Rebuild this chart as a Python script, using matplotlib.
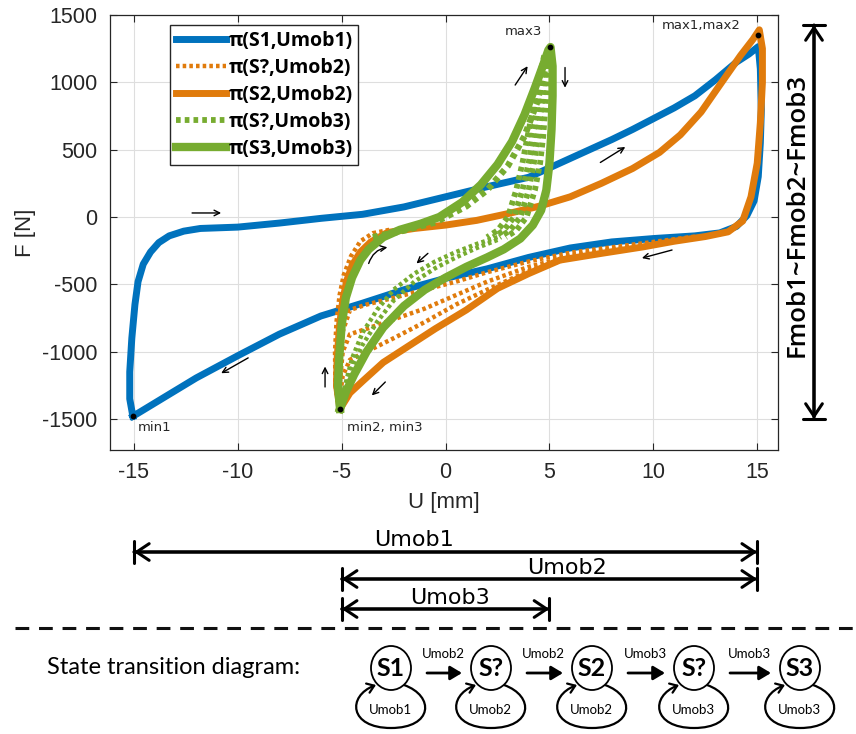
import matplotlib
matplotlib.use("Agg")
import matplotlib.pyplot as plt
import matplotlib.transforms as mtransforms
from matplotlib.path import Path
from matplotlib.patches import FancyArrowPatch, Ellipse
from matplotlib.lines import Line2D

plt.rcParams["axes.unicode_minus"] = False

# ---------------- data ----------------
# steady loop in state S1 (stroke Umob1)
u_s1 = [-15.05, -15.2, -15.2, -15.1, -14.95, -14.8, -14.55, -14.2, -13.8, -13.3, -12.6, -11.8,
        -10.0, -8.0, -6.0, -4.0, -2.0, 0.0, 2.0, 4.0, 5.0, 6.0, 7.0, 8.0, 9.0, 10.0, 11.0, 12.0,
        13.0, 14.0, 14.6, 15.05, 15.15, 15.2, 15.15, 15.05, 14.85, 14.5, 14.0, 13.2, 12.0, 10.0,
        8.0, 6.0, 4.0, 2.0, 0.0, -2.0, -4.0, -6.0, -8.0, -10.0, -12.0, -13.5, -15.05]
f_s1 = [-1480, -1350, -1150, -900, -650, -480, -350, -260, -190, -140, -105, -85,
        -75, -45, -10, 20, 75, 150, 225, 295, 365, 435, 505, 575, 650, 730, 810, 900,
        1020, 1150, 1210, 1265, 1100, 800, 550, 300, 120, 10, -70, -118, -140, -160,
        -185, -230, -300, -385, -455, -540, -640, -735, -870, -1030, -1195, -1335, -1480]

# steady loop in state S2 (stroke Umob2)
u_s2 = [-5.08, -5.25, -5.22, -5.1, -4.95, -4.75, -4.5, -4.1, -3.6, -2.8, -1.5, 0.0, 1.5, 3.0,
        4.5, 6.0, 7.5, 9.0, 10.3, 11.3, 12.3, 13.2, 14.2, 14.8, 15.1, 15.25, 15.25, 15.15, 15.0, 14.7,
        14.3, 13.6, 12.5, 11.0, 9.5, 7.5, 5.5, 4.0, 2.5, 1.0, -0.5, -2.0, -3.0, -4.0, -4.6, -5.08]
f_s2 = [-1425, -1250, -1050, -800, -620, -470, -360, -260, -185, -115, -85, -60, -25, 25,
        80, 150, 250, 360, 480, 610, 780, 980, 1200, 1320, 1390, 1250, 1000, 700, 400, 150,
        -30, -110, -145, -180, -222, -270, -320, -420, -530, -690, -830, -980, -1080, -1220, -1306, -1425]

# transient cycles S? -> S2 (stroke Umob2)
t2_riser_u = [-5.15, -5.3, -5.32, -5.25, -5.1, -4.9, -4.55, -4.1, -3.5, -2.7]
t2_riser_f = [-1420, -1250, -1000, -780, -580, -430, -290, -180, -120, -95]
t2_low_u = [12.0, 10.0, 8.0, 6.0, 4.0, 2.0, 0.5, -1.0, -2.5, -3.8, -4.6, -4.95, -5.1]
t2_low_f_a = [-145, -185, -225, -265, -330, -410, -480, -540, -600, -650, -690, -850, -1150]
t2_low_f_b = [-150, -195, -240, -290, -370, -480, -580, -680, -760, -830, -870, -1000, -1250]
t2_low_f_c = [-155, -205, -250, -305, -400, -540, -650, -780, -900, -1000, -1060, -1180, -1350]

# steady loop in state S3 (stroke Umob3)
u_s3 = [-5.08, -5.18, -5.12, -5.0, -4.8, -4.5, -4.1, -3.7, -3.0, -2.2, -1.2, -0.3, 0.8, 1.7,
        2.5, 3.2, 3.8, 4.3, 4.7, 4.95, 5.05, 5.15, 5.15, 5.1, 5.0, 4.85, 4.6, 4.2, 3.6, 2.8,
        2.0, 1.0, 0.0, -1.0, -2.0, -3.0, -3.8, -4.4, -4.8, -5.08]
f_s3 = [-1425, -1250, -1050, -800, -600, -450, -320, -240, -150, -95, -50, 0, 110, 240,
        390, 560, 760, 960, 1130, 1240, 1262, 1120, 900, 650, 400, 200, 50, -60, -160, -240,
        -300, -370, -450, -540, -660, -820, -1000, -1170, -1300, -1425]

# transient cycles S? -> S3 (stroke Umob3)
t3_up_u = [-3.5, -2.0, -0.5, 1.0, 2.0, 3.0, 3.8, 4.4, 4.8, 5.0]
t3_up_f = [-150, -100, -40, 80, 200, 380, 600, 850, 1100, 1230]
t3_right_f = [1200, 1000, 800, 600, 400, 200, 0, -100, -150]
t3_right_u_a = [4.95, 4.9, 4.8, 4.7, 4.55, 4.3, 3.9, 3.4, 2.9]
t3_right_u_b = [4.9, 4.75, 4.6, 4.45, 4.25, 4.0, 3.6, 3.1, 2.6]
t3_right_u_c = [4.85, 4.6, 4.4, 4.2, 4.0, 3.7, 3.3, 2.8, 2.3]
t3_right_u_d = [4.75, 4.45, 4.2, 3.95, 3.7, 3.4, 3.0, 2.5, 2.0]
t3_low_u = [2.5, 1.5, 0.5, -0.5, -1.5, -2.5, -3.3, -4.0, -4.5, -4.9]
t3_low_f_a = [-170, -230, -300, -380, -480, -620, -780, -950, -1120, -1320]
t3_low_f_b = [-150, -200, -260, -330, -420, -540, -690, -860, -1050, -1290]

# extreme points
ext_u = [-15.05, -5.08, 5.05, 15.05]
ext_f = [-1480, -1425, 1262, 1355]
ext_labels = ["min1", "min2, min3", "max3", "max1,max2"]

series_labels = ["π(S1,Umob1)", "π(S?,Umob2)", "π(S2,Umob2)", "π(S?,Umob3)", "π(S3,Umob3)"]
x_ticks = [-15, -10, -5, 0, 5, 10, 15]
y_ticks = [-1500, -1000, -500, 0, 500, 1000, 1500]

strokes = [(-15, 15, "Umob1"), (-5, 15, "Umob2"), (-5, 5, "Umob3")]
states = ["S1", "S?", "S2", "S?", "S3"]
loop_labels = ["Umob1", "Umob2", "Umob2", "Umob3", "Umob3"]
edge_labels = ["Umob2", "Umob2", "Umob3", "Umob3"]

# ---------------- style ----------------
BLUE = "#0072BD"
ORANGE = "#E07B0C"
GREEN = "#77AC30"
DARK = "#262626"
W, H = 856, 734


def fxy(px, py):
    """pixel position (from top-left) -> figure fraction"""
    return (px / W, 1 - py / H)


fig = plt.figure(figsize=(W / 100, H / 100), dpi=100)
ax = fig.add_axes([110 / W, 1 - 450 / H, (778 - 110) / W, (450 - 15) / H])

SOLID_LW = 5.0
DOT_LW = 3.2
DOT = (0, (0.8, 0.7))

ax.plot(u_s1, f_s1, color=BLUE, lw=SOLID_LW, solid_joinstyle="round", label=series_labels[0], zorder=3)

first = True
for fl in (t2_low_f_a, t2_low_f_b, t2_low_f_c):
    ax.plot(t2_low_u, fl, color=ORANGE, lw=DOT_LW, linestyle=DOT,
            label=series_labels[1] if first else None, zorder=4)
    first = False
ax.plot(t2_riser_u, t2_riser_f, color=ORANGE, lw=DOT_LW, linestyle=DOT, zorder=4)

ax.plot(u_s2, f_s2, color=ORANGE, lw=SOLID_LW, solid_joinstyle="round", label=series_labels[2], zorder=5)

first = True
for ul in (t3_right_u_a, t3_right_u_b, t3_right_u_c, t3_right_u_d):
    ax.plot(ul, t3_right_f, color=GREEN, lw=DOT_LW + 1, linestyle=DOT,
            label=series_labels[3] if first else None, zorder=6)
    first = False
ax.plot(t3_up_u, t3_up_f, color=GREEN, lw=DOT_LW + 1.5, linestyle=DOT, zorder=6)
for fl in (t3_low_f_a, t3_low_f_b):
    ax.plot(t3_low_u, fl, color=GREEN, lw=DOT_LW, linestyle=DOT, zorder=6)

ax.plot(u_s3, f_s3, color=GREEN, lw=SOLID_LW + 1, solid_joinstyle="round", label=series_labels[4], zorder=7)

ax.scatter(ext_u, ext_f, s=10, color="black", zorder=9)

ann_font = dict(fontsize=9.5, color=DARK, family="DejaVu Sans")
ax.text(-14.8, -1560, ext_labels[0], ha="left", va="center", **ann_font)
ax.text(-4.75, -1565, ext_labels[1], ha="left", va="center", **ann_font)
ax.text(2.85, 1375, ext_labels[2], ha="left", va="center", **ann_font)
ax.text(10.4, 1420, ext_labels[3], ha="left", va="center", **ann_font)

# direction arrows along the loops
small_arrows = [
    ((-12.2, 30), (-10.8, 30), "arc3"),
    ((-9.5, -1046), (-10.8, -1160), "arc3"),
    ((-5.8, -1262), (-5.8, -1110), "arc3"),
    ((-2.9, -1225), (-3.55, -1325), "arc3"),
    ((-3.7, -345), (-2.8, -225), "arc3,rad=-0.3"),
    ((-0.85, -270), (-1.4, -345), "arc3"),
    ((3.35, 980), (3.95, 1120), "arc3"),
    ((5.75, 1110), (5.75, 960), "arc3"),
    ((7.45, 405), (8.65, 520), "arc3"),
    ((10.9, -245), (9.45, -305), "arc3"),
]
for (p0, p1, cs) in small_arrows:
    ax.annotate("", xy=p1, xytext=p0,
                arrowprops=dict(arrowstyle="->", lw=1.0, color="black", shrinkA=0, shrinkB=0,
                                connectionstyle=cs, mutation_scale=10), zorder=10)

ax.set_xlim(-16.15, 16.0)
ax.set_ylim(-1730, 1500)
ax.set_xticks(x_ticks)
ax.set_yticks(y_ticks)
tick_font = "Liberation Sans"
for lab in ax.get_xticklabels() + ax.get_yticklabels():
    lab.set_fontfamily(tick_font)
ax.tick_params(direction="in", length=5, width=0.8, top=True, right=True,
               labelsize=15.5, colors=DARK, pad=9)
ax.grid(True, color="#dedede", lw=0.8)
ax.set_axisbelow(True)
for sp in ax.spines.values():
    sp.set_color(DARK)
    sp.set_linewidth(0.9)
ax.set_xlabel("U [mm]", fontsize=16, family=tick_font, color=DARK, labelpad=6)
ax.set_ylabel("F [N]", fontsize=16, family=tick_font, color=DARK, labelpad=4)

leg = ax.legend(loc="upper left", bbox_to_anchor=((170 - 110) / 668, (450 - 25) / 435),
                borderaxespad=0, frameon=True, fancybox=False, handlelength=2.6,
                handletextpad=0.1, labelspacing=0.36, borderpad=0.3,
                prop=dict(family=["Open Sans", "DejaVu Sans"], weight="bold", size=14))
leg.get_frame().set_edgecolor(DARK)
leg.get_frame().set_linewidth(1.0)
leg.get_frame().set_alpha(1)

# ---------------- stroke dimension lines below the axes ----------------
rows = [552, 579, 609]
label_x = [-1.5, 5.85, 0.2]
tr = mtransforms.blended_transform_factory(ax.transData, fig.transFigure)
for (u0, u1, name), row, lx in zip(strokes, rows, label_x):
    fy = 1 - row / H
    ax.annotate("", xy=(u1, fy), xytext=(u0, fy),
                xycoords=("data", "figure fraction"), textcoords=("data", "figure fraction"),
                arrowprops=dict(arrowstyle="<->,head_length=0.45,head_width=0.3", lw=2.2,
                                color="black", shrinkA=0, shrinkB=0, mutation_scale=20),
                annotation_clip=False)
    ax.annotate("", xy=(u1, fy), xytext=(u0, fy),
                xycoords=("data", "figure fraction"), textcoords=("data", "figure fraction"),
                arrowprops=dict(arrowstyle="|-|,widthA=0.4,widthB=0.4", lw=2.2,
                                color="black", shrinkA=0, shrinkB=0, mutation_scale=20),
                annotation_clip=False)
    ax.text(lx, fy + 1.5 / H, name, transform=tr, ha="center", va="bottom",
            fontsize=16, family="DejaVu Sans", color="black", clip_on=False)

# dashed separator
fig.add_artist(Line2D([15 / W, 1.0], [1 - 628 / H] * 2, transform=fig.transFigure,
                      color="#111111", lw=2.2, dashes=(4.5, 3.2)))

# ---------------- force range arrow on the right ----------------
pa = fxy(814, 25)
pb = fxy(814, 419)
fig.add_artist(FancyArrowPatch(pa, pb, transform=fig.transFigure, arrowstyle="<->,head_length=0.45,head_width=0.3",
                               mutation_scale=20, lw=2.2, color="black", shrinkA=0, shrinkB=0))
fig.add_artist(FancyArrowPatch(pa, pb, transform=fig.transFigure, arrowstyle="|-|,widthA=0.4,widthB=0.4",
                               mutation_scale=20, lw=2.2, color="black", shrinkA=0, shrinkB=0))
fx, fy = fxy(797, 215)
fig.text(fx, fy, "Fmob1~Fmob2~Fmob3", rotation=90, ha="center", va="center",
         fontsize=18.5, family=["Open Sans", "DejaVu Sans"], weight="semibold", color="black")

# ---------------- state transition diagram ----------------
tx, ty = fxy(47, 667)
fig.text(tx, ty, "State transition diagram:", ha="left", va="center", fontsize=17,
         family=["Lato", "DejaVu Sans"], color="black")

cx_list = [391, 491, 592, 694, 800]
cy = 668
small = dict(fontsize=9.5, family=["Lato", "DejaVu Sans"], color="black", ha="center", va="center")
for i, (cx, st) in enumerate(zip(cx_list, states)):
    fig.add_artist(Ellipse(fxy(cx, cy), 40 / W, 44 / H, transform=fig.transFigure,
                           facecolor="white", edgecolor="black", lw=1.3, zorder=3))
    fig.text(*fxy(cx, cy), st, ha="center", va="center", fontsize=18,
             family=["Lato", "DejaVu Sans"], weight="bold", color="black", zorder=4)
    # self loop below the state
    pts_px = [(cx + 13, cy + 17), (cx + 44, cy + 28), (cx + 42, cy + 60), (cx, cy + 60),
              (cx - 42, cy + 60), (cx - 44, cy + 28), (cx - 15, cy + 17)]
    verts = [fxy(*p) for p in pts_px]
    codes = [Path.MOVETO, Path.CURVE4, Path.CURVE4, Path.CURVE4, Path.CURVE4, Path.CURVE4, Path.CURVE4]
    fig.add_artist(FancyArrowPatch(path=Path(verts, codes), transform=fig.transFigure,
                                   arrowstyle="->,head_length=0.35,head_width=0.25",
                                   mutation_scale=14, lw=1.6, color="black"))
    fig.text(*fxy(cx - 1, cy + 42), loop_labels[i], **small)
    if i < len(cx_list) - 1:
        nx = cx_list[i + 1]
        fig.add_artist(FancyArrowPatch(fxy(cx + 36, cy + 5), fxy(nx - 29, cy + 5),
                                       transform=fig.transFigure,
                                       arrowstyle="-|>,head_length=0.5,head_width=0.3",
                                       mutation_scale=14, lw=2.0, color="black",
                                       shrinkA=0, shrinkB=0))
        fig.text(*fxy((cx + nx) / 2 + 2, cy - 14), edge_labels[i], **small)

fig.savefig("out.png", dpi=100)
